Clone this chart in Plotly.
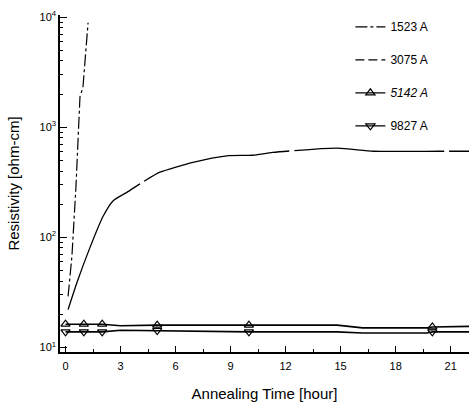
import plotly.graph_objects as go

# ---- data ----
x_1523 = [0.14, 0.35, 0.57, 0.79, 0.95, 1.23]
y_1523 = [29, 67, 288, 1900, 2300, 8900]

x_3075 = [0.14, 0.63, 1.3, 2.05, 2.6, 3.35, 4.25, 5.15, 6.95, 8.8, 10.2, 11.3, 14.8, 16.8, 20.4, 22.0]
y_3075 = [22, 39, 78, 155, 215, 256, 320, 390, 480, 550, 556, 590, 645, 605, 605, 605]

x_thick = [0, 1, 2, 3, 5, 10, 14.8, 16.2, 19.7, 20, 22]
y_5142 = [16.2, 16.2, 16.2, 15.7, 15.9, 15.9, 15.9, 15.0, 15.0, 15.3, 15.5]
y_9827 = [13.8, 13.8, 13.8, 14.3, 14.2, 13.8, 13.8, 13.5, 13.5, 13.8, 13.8]
marked_times = [0, 1, 2, 5, 10, 20]

x_ticks = [0, 3, 6, 9, 12, 15, 18, 21]
y_ticks = [10, 100, 1000, 10000]
y_ticktext = ["10<sup>1</sup>", "10<sup>2</sup>", "10<sup>3</sup>", "10<sup>4</sup>"]
legend_names = ["1523 A", "3075 A", "<i>5142 A</i>", "9827 A"]

FONT = "Liberation Sans, Arial, sans-serif"
DASH_1523 = "12px,3px,3px,3px"
DASH_3075 = "150px,5px"

fig = go.Figure()
fig.add_trace(go.Scatter(x=x_1523, y=y_1523, mode="lines", name=legend_names[0],
                         legendgroup="g1",
                         line=dict(color="black", width=1.2, dash=DASH_1523)))
fig.add_trace(go.Scatter(x=x_3075, y=y_3075, mode="lines", name=legend_names[1],
                         line=dict(color="black", width=1.3, dash=DASH_3075,
                                   shape="spline", smoothing=0.6),
                         showlegend=False))
# legend swatch for 3075 (gap visible in the short swatch)
fig.add_trace(go.Scatter(x=[None], y=[None], mode="lines", name=legend_names[1],
                         legendgroup="g2",
                         line=dict(color="black", width=1.3, dash="9px,4px")))

for i, (yv, sym, name) in enumerate([(y_5142, "triangle-up-open", legend_names[2]),
                                     (y_9827, "triangle-down-open", legend_names[3])]):
    fig.add_trace(go.Scatter(x=x_thick, y=yv, mode="lines", showlegend=False,
                             line=dict(color="black", width=1.6)))
    mx = [x for x in x_thick if x in marked_times]
    my = [y for x, y in zip(x_thick, yv) if x in marked_times]
    fig.add_trace(go.Scatter(x=mx, y=my, mode="markers", showlegend=False,
                             marker=dict(symbol=sym, size=8, color="black",
                                         line=dict(width=1.2, color="black"))))
    fig.add_trace(go.Scatter(x=[None], y=[None], mode="lines+markers", name=name,
                             legendgroup="g%d" % (i + 3),
                             line=dict(color="black", width=1.3),
                             marker=dict(symbol=sym, size=8, color="black",
                                         line=dict(width=1.2, color="black"))))

minor_y = [m * 10 ** d for d in range(1, 4) for m in range(2, 10)]

fig.update_layout(
    width=469, height=402,
    margin=dict(l=60, r=0, t=15, b=50),
    paper_bgcolor="white", plot_bgcolor="white",
    font=dict(family=FONT, color="black", size=11),
    showlegend=True,
    legend=dict(x=0.71, y=1.008, xanchor="left", yanchor="top",
                bgcolor="rgba(0,0,0,0)", font=dict(size=12, family=FONT),
                tracegroupgap=14, itemwidth=30, traceorder="grouped"),
    xaxis=dict(range=[-0.3, 22.0], tickvals=x_ticks, ticks="inside", ticklen=6,
               tickwidth=1.2, tickcolor="black", showline=True, linecolor="black",
               linewidth=1.5, mirror=False, showgrid=False, zeroline=False,
               automargin=False, ticklabelstandoff=3,
               minor=dict(dtick=1.5, tick0=0, ticks="inside", ticklen=3, tickcolor="black",
                          showgrid=False),
               tickfont=dict(size=11, color="black"),
               title=dict(text="Annealing Time [hour]", font=dict(size=15), standoff=21)),
    yaxis=dict(type="log", range=[0.957, 4.02], tickvals=y_ticks, ticktext=y_ticktext,
               ticks="inside", ticklen=7, tickwidth=1.2, tickcolor="black",
               showline=True, linecolor="black", linewidth=1.5, mirror=False,
               showgrid=False, zeroline=False, automargin=False,
               minor=dict(tickvals=minor_y, ticks="inside", ticklen=3, tickcolor="black",
                          showgrid=False),
               tickfont=dict(size=11, color="black"),
               title=dict(text="Resistivity [ohm-cm]", font=dict(size=15), standoff=16)),
)

fig.write_html("out.html", config={"displayModeBar": False},
               post_script="document.body.style.margin='0';document.body.style.overflow='hidden';")
